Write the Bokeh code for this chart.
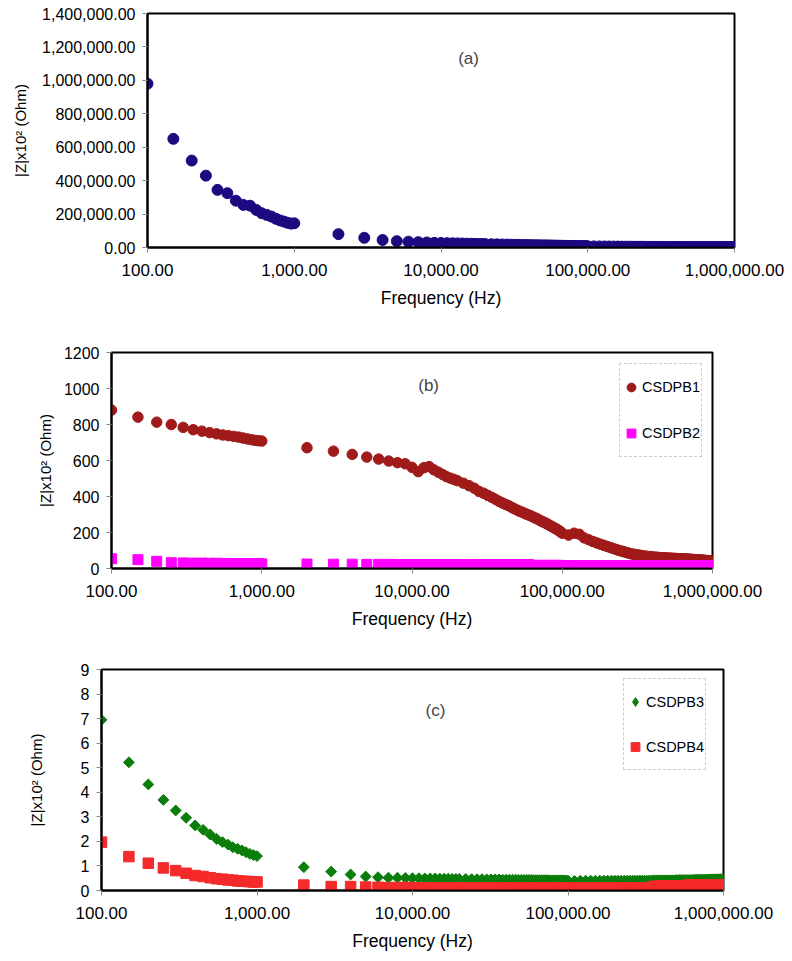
import math
from bokeh.plotting import figure
from bokeh.models import FixedTicker, NumeralTickFormatter, Label, Legend, LegendItem
from bokeh.embed import file_html
from bokeh.resources import INLINE

# ---------------- data ----------------
f_low = [100, 150, 200, 250, 300, 350, 400, 450, 500, 550, 600, 650, 700, 750, 800, 850, 900, 950, 1000]
f_mid = [2000, 3000, 4000, 5000, 6000, 7000, 8000, 9000]
f_hi1a = [10000, 11000, 12000, 13000, 14000, 15000, 16000, 17000, 18000, 19000, 20000]
f_hi1b = [22000, 24000, 26000, 28000, 30000, 32000, 34000, 36000, 38000, 40000,
          42000, 44000, 46000, 48000, 50000, 52000, 54000, 56000, 58000, 60000,
          62000, 64000, 66000, 68000, 70000, 72000, 74000, 76000, 78000, 80000,
          82000, 84000, 86000, 88000, 90000, 92000, 94000, 96000, 98000]
f_hi2 = [100000, 110000, 120000, 130000, 140000, 150000, 160000, 170000, 180000, 190000,
         200000, 210000, 220000, 230000, 240000, 250000, 260000, 270000, 280000, 290000,
         300000, 310000, 320000, 330000, 340000, 350000, 360000, 370000, 380000, 390000,
         400000, 410000, 420000, 430000, 440000, 450000, 460000, 470000, 480000, 490000,
         500000, 510000, 520000, 530000, 540000, 550000, 560000, 570000, 580000, 590000,
         600000, 610000, 620000, 630000, 640000, 650000, 660000, 670000, 680000, 690000,
         700000, 710000, 720000, 730000, 740000, 750000, 760000, 770000, 780000, 790000,
         800000, 810000, 820000, 830000, 840000, 850000, 860000, 870000, 880000, 890000,
         900000, 910000, 920000, 930000, 940000, 950000, 960000, 970000, 980000, 990000,
         1000000]
freq = f_low + f_mid + f_hi1a + f_hi1b + f_hi2

# (a) single sample
z_a = [980000, 650000, 520000, 430000, 345000, 325000, 280000, 255000, 250000, 225000,
       205000, 195000, 185000, 172000, 162000, 155000, 148000, 143000, 145000,
       80000, 58000, 45000, 38000, 35000, 32000, 30000, 28000,
       27000, 26000, 25200, 24400, 23700, 23000, 22400, 21800, 21300, 20800, 20300,
       19500, 18800, 18100, 17500, 16900, 16400, 15900, 15400, 14900, 14500,
       14100, 13700, 13300, 12900, 12600, 12300, 12000, 11700, 11400, 11100,
       10800, 10500, 10300, 10100, 9900, 9700, 9500, 9300, 9100, 8900,
       8700, 8500, 8300, 8200, 8000, 7800, 7600, 7400, 7200,
       7000, 6700, 6400, 6100, 5900, 5700, 5500, 5300, 5100, 4900,
       4700, 4550, 4400, 4250, 4100, 3950, 3800, 3700, 3600, 3500,
       3400, 3300, 3200, 3100, 3000, 2950, 2900, 2850, 2800, 2750,
       2700, 2650, 2600, 2550, 2500, 2450, 2400, 2350, 2300, 2250,
       2200, 2150, 2100, 2050, 2000, 1980, 1960, 1940, 1920, 1900,
       1880, 1860, 1840, 1820, 1800, 1780, 1760, 1740, 1720, 1700,
       1680, 1660, 1640, 1620, 1600, 1580, 1560, 1540, 1520, 1500,
       1480, 1460, 1440, 1420, 1400, 1380, 1360, 1340, 1320, 1300,
       1280, 1260, 1240, 1220, 1200, 1180, 1160, 1140, 1120, 1100,
       1080]

# (b)
z_b1 = [880, 841, 813, 800, 784, 771, 763, 755, 748, 742, 738, 734, 730, 725, 720, 716, 712, 710, 708,
        671, 652, 634, 619, 608, 597, 588, 582,
        562, 538, 560, 566, 548, 535, 522, 510, 502, 495, 488,
        474, 460, 446, 428, 418, 406, 395, 384, 373, 364,
        356, 349, 340, 332, 325, 318, 313, 307, 301, 297,
        292, 286, 281, 276, 270, 265, 260, 256, 251, 246,
        241, 236, 232, 227, 222, 218, 213, 208, 202,
        196, 186, 196, 190, 170, 160, 150, 142, 135, 128,
        122, 116, 110, 105, 100, 96, 92, 88, 84, 81,
        79, 77, 75, 73, 71, 69, 68, 67, 66, 65,
        64, 63, 62, 62, 61, 60, 60, 59, 59, 58,
        58, 57, 57, 57, 56, 56, 56, 55, 55, 55,
        54, 54, 54, 53, 53, 53, 52, 52, 52, 51,
        51, 51, 50, 50, 50, 49, 49, 49, 48, 48,
        48, 47, 47, 47, 46, 46, 46, 45, 45, 45,
        44, 44, 44, 43, 43, 43, 42, 42, 42, 41,
        41]
z_b2 = [54, 49, 40, 32, 31, 30, 30, 29, 29, 28, 28, 28, 27, 27, 27, 27, 26, 26, 26,
        25, 24, 24, 23, 23, 23, 22, 22,
        22, 22, 22, 22, 22, 22, 22, 22, 22, 22, 22,
        21, 21, 21, 21, 21, 21, 21, 21, 21, 21,
        21, 21, 21, 21, 21, 21, 21, 21, 21, 21,
        17, 17, 17, 17, 17, 17, 17, 17, 17, 17,
        17, 17, 17, 17, 17, 17, 17, 17, 17,
        16, 16, 16, 16, 16, 16, 16, 16, 16, 16,
        16, 16, 16, 16, 16, 16, 16, 16, 16, 16,
        16, 16, 16, 16, 16, 16, 16, 16, 16, 16,
        16, 16, 16, 16, 16, 16, 16, 16, 16, 16,
        16, 16, 16, 16, 16, 16, 16, 16, 16, 16,
        16, 16, 16, 16, 16, 16, 16, 16, 16, 16,
        16, 16, 16, 16, 16, 16, 16, 16, 16, 16,
        16, 16, 16, 16, 16, 16, 16, 16, 16, 16,
        16, 16, 16, 16, 16, 16, 16, 16, 16, 16,
        16]

# (c)
z_c3 = [6.95, 5.22, 4.32, 3.69, 3.26, 2.96, 2.65, 2.47, 2.28, 2.10, 1.97, 1.87, 1.76, 1.70, 1.63, 1.56, 1.49, 1.44, 1.40,
        0.95, 0.77, 0.65, 0.57, 0.54, 0.52, 0.52, 0.51,
        0.50, 0.50, 0.49, 0.49, 0.49, 0.48, 0.48, 0.48, 0.47, 0.47, 0.47,
        0.47, 0.46, 0.46, 0.46, 0.45, 0.45, 0.45, 0.45, 0.44, 0.44,
        0.44, 0.44, 0.44, 0.43, 0.43, 0.43, 0.43, 0.43, 0.43, 0.42,
        0.42, 0.42, 0.42, 0.42, 0.42, 0.42, 0.42, 0.41, 0.41, 0.41,
        0.41, 0.41, 0.41, 0.41, 0.41, 0.41, 0.41, 0.40, 0.40,
        0.40, 0.39, 0.40, 0.40, 0.40, 0.40, 0.40, 0.40, 0.40, 0.40,
        0.40, 0.40, 0.40, 0.40, 0.40, 0.40, 0.40, 0.40, 0.40, 0.40,
        0.40, 0.40, 0.40, 0.40, 0.40, 0.41, 0.41, 0.41, 0.41, 0.41,
        0.41, 0.41, 0.41, 0.41, 0.41, 0.41, 0.41, 0.41, 0.41, 0.41,
        0.42, 0.42, 0.42, 0.42, 0.42, 0.42, 0.42, 0.42, 0.42, 0.42,
        0.42, 0.42, 0.42, 0.42, 0.42, 0.43, 0.43, 0.43, 0.43, 0.43,
        0.43, 0.43, 0.43, 0.43, 0.43, 0.43, 0.43, 0.43, 0.43, 0.43,
        0.44, 0.44, 0.44, 0.44, 0.44, 0.44, 0.44, 0.44, 0.44, 0.44,
        0.45, 0.45, 0.45, 0.45, 0.45, 0.45, 0.45, 0.45, 0.45, 0.45,
        0.46]
z_c4 = [1.97, 1.38, 1.11, 0.92, 0.81, 0.70, 0.61, 0.57, 0.52, 0.48, 0.46, 0.43, 0.42, 0.39, 0.38, 0.37, 0.36, 0.35, 0.35,
        0.22, 0.16, 0.16, 0.14, 0.13, 0.12, 0.12, 0.12,
        0.12, 0.11, 0.11, 0.11, 0.10, 0.10, 0.10, 0.10, 0.10, 0.10, 0.10,
        0.10, 0.10, 0.10, 0.10, 0.10, 0.10, 0.10, 0.10, 0.10, 0.10,
        0.10, 0.10, 0.10, 0.10, 0.10, 0.10, 0.10, 0.10, 0.10, 0.10,
        0.10, 0.10, 0.10, 0.10, 0.10, 0.10, 0.10, 0.10, 0.10, 0.10,
        0.10, 0.10, 0.10, 0.10, 0.10, 0.10, 0.10, 0.10, 0.10,
        0.10, 0.10, 0.10, 0.10, 0.10, 0.10, 0.10, 0.10, 0.10, 0.10,
        0.10, 0.10, 0.10, 0.10, 0.10, 0.10, 0.10, 0.10, 0.10, 0.10,
        0.10, 0.10, 0.10, 0.10, 0.10, 0.16, 0.16, 0.17, 0.17, 0.17,
        0.17, 0.17, 0.17, 0.17, 0.17, 0.17, 0.17, 0.17, 0.17, 0.17,
        0.17, 0.17, 0.17, 0.17, 0.17, 0.17, 0.17, 0.17, 0.17, 0.17,
        0.22, 0.22, 0.22, 0.22, 0.22, 0.23, 0.23, 0.23, 0.23, 0.23,
        0.23, 0.23, 0.23, 0.23, 0.23, 0.23, 0.23, 0.23, 0.23, 0.23,
        0.23, 0.23, 0.23, 0.23, 0.23, 0.23, 0.23, 0.23, 0.23, 0.23,
        0.23, 0.23, 0.23, 0.23, 0.23, 0.23, 0.23, 0.23, 0.23, 0.23,
        0.23]

x_ticks = [100, 1000, 10000, 100000, 1000000]
y_ticks_a = [0, 200000, 400000, 600000, 800000, 1000000, 1200000, 1400000]
y_ticks_b = [0, 200, 400, 600, 800, 1000, 1200]
y_ticks_c = [0, 1, 2, 3, 4, 5, 6, 7, 8, 9]

for s in (z_a, z_b1, z_b2, z_c3, z_c4):
    assert len(s) == len(freq), len(s)

FONT = "Liberation Sans"
TXT = "17px"


def make_fig(y_max, y_ticks, y_fmt, fw, fh, bl, bt, bb, br, ylab_standoff):
    p = figure(x_axis_type="log", x_range=(100, 1000000), y_range=(0, y_max),
               frame_width=fw, frame_height=fh,
               min_border_left=bl, min_border_top=bt, min_border_bottom=bb, min_border_right=br,
               output_backend="svg", toolbar_location=None)
    p.grid.visible = False
    p.outline_line_color = "black"
    p.outline_line_width = 2
    p.background_fill_color = "white"
    p.border_fill_color = "white"
    p.xaxis.ticker = FixedTicker(ticks=x_ticks, minor_ticks=[])
    p.xaxis.formatter = NumeralTickFormatter(format="0,0.00")
    p.yaxis.ticker = FixedTicker(ticks=y_ticks, minor_ticks=[])
    p.yaxis.formatter = NumeralTickFormatter(format=y_fmt)
    for ax in (p.xaxis[0], p.yaxis[0]):
        ax.axis_line_color = "black"
        ax.axis_line_width = 2
        ax.major_tick_line_color = "#888888"
        ax.major_tick_out = 5
        ax.major_tick_in = 0
        ax.minor_tick_line_color = None
        ax.major_label_text_font = FONT
        ax.major_label_text_color = "black"
        ax.axis_label_text_font = FONT
        ax.axis_label_text_font_style = "normal"
        ax.axis_label_text_color = "black"
    p.xaxis.major_label_text_font_size = TXT
    p.yaxis.major_label_text_font_size = "16px"
    p.xaxis.major_label_standoff = 11
    p.yaxis.major_label_standoff = 7
    p.xaxis.axis_label = "Frequency (Hz)"
    p.xaxis.axis_label_text_font_size = "17.5px"
    p.xaxis.axis_label_standoff = 9
    p.yaxis.axis_label = "|Z|x10² (Ohm)"
    p.yaxis.axis_label_text_font_size = "15px"
    p.yaxis.axis_label_standoff = ylab_standoff
    return p


# ---------------- (a) ----------------
pa = make_fig(1400000, y_ticks_a, "0,0.00", 587, 234, 147, 13, 71, 56, 10)
pa.scatter(freq, z_a, marker="circle", size=11, color="#1c0a80")
pa.add_layout(Label(x=15400, y=1130000, text="(a)", text_align="center", text_baseline="middle",
                    text_font=FONT, text_font_size=TXT))

# ---------------- (b) ----------------
pb = make_fig(1200, y_ticks_b, "0", 601, 216, 111, 34, 68, 78, 7)
rb1 = pb.scatter(freq, z_b1, marker="circle", size=10.5, color="#a01a1a")
rb2 = pb.scatter(freq, z_b2, marker="square", size=10, color="#ff00ff")
pb.add_layout(Label(x=12900, y=1017, text="(b)", text_align="center", text_baseline="middle",
                    text_font=FONT, text_font_size=TXT))

# ---------------- (c) ----------------
# small diamond drawn underneath the rotated squares: only used for the legend key
rc3_key = pc_key = None
pc = make_fig(9, y_ticks_c, "0", 622, 221, 101, 33, 66, 67, 33)
rc3_key = pc.scatter(freq, z_c3, marker="diamond", size=7, color="#0b7d0b")
rc3 = pc.scatter(freq, z_c3, marker="square", angle=math.pi / 4, size=7.7, color="#0b7d0b")
rc4 = pc.scatter(freq, z_c4, marker="square", size=10.5, color="#f52a2a")
pc.add_layout(Label(x=14060, y=7.33, text="(c)", text_align="center", text_baseline="middle",
                    text_font=FONT, text_font_size=TXT))


def legend(p, items, loc, h):
    lg = Legend(items=[LegendItem(label=l, renderers=[r]) for l, r in items],
                location=loc, orientation="vertical",
                glyph_width=22, glyph_height=h, label_height=h, label_width=59,
                label_standoff=0, padding=0, spacing=0, margin=0,
                border_line_color="#9a9a9a", border_line_width=1, border_line_dash="30 8",
                background_fill_color="white", background_fill_alpha=1,
                label_text_font=FONT, label_text_font_size="14.5px", label_text_color="black")
    p.add_layout(lg, "center")


legend(pb, [("CSDPB1", rb1), ("CSDPB2", rb2)], (508, 111), 46)
legend(pc, [("CSDPB3", rc3_key), ("CSDPB4", rc4)], (522, 120), 45)

open("out.html", "w").write(file_html([pa, pb, pc], INLINE))
